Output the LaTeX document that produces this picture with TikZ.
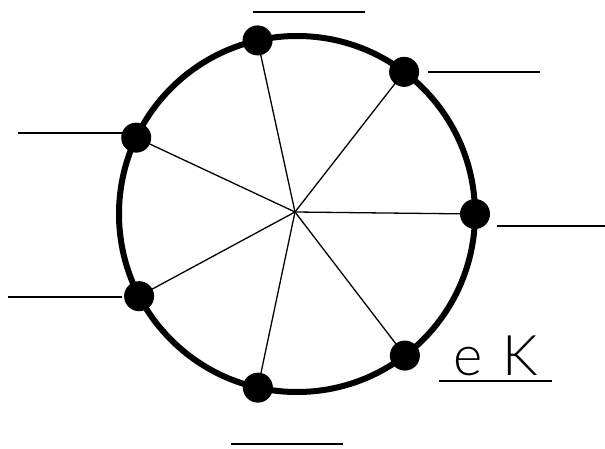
\documentclass[tikz,border=0pt]{standalone}
\usepackage{fontspec}
\newfontfamily\thinfont{Lato Light}
\begin{document}
\begin{tikzpicture}[x=1pt,y=-1pt,
  rim/.style={line width=6pt},
  spoke/.style={line width=1.3pt},
  blank/.style={line width=2pt},
  dotnode/.style={circle,fill=black,inner sep=0pt,minimum size=30pt}]
\useasboundingbox (0,0) rectangle (605,449);
\coordinate (c) at (297,214);
\draw[rim] (c) circle[radius=178];
\coordinate (s) at (295,212);
\foreach \n/\a in {d1/102.8,d2/53,d3/0,d4/-52.7,d5/-102.7,d6/207.5,d7/154.6}{
  \path (c) ++(\a:178 and -178) coordinate (\n);
}
\foreach \n in {d1,d2,d3,d4,d5,d6,d7}{\draw[spoke] (s) -- (\n);}
\foreach \n in {d1,d2,d3,d4,d5,d6,d7}{\node[dotnode] (n\n) at (\n) {};}
\coordinate (l1a) at (253,12); \coordinate (l1b) at (365,12);
\coordinate (l2a) at (428,72); \coordinate (l2b) at (540,72);
\coordinate (l3a) at (497,226); \coordinate (l3b) at (605,226);
\coordinate (l4a) at (439,381); \coordinate (l4b) at (552,381);
\coordinate (l5a) at (231,444); \coordinate (l5b) at (343,444);
\coordinate (l6a) at (8,297); \coordinate (l6b) at (122,297);
\coordinate (l7a) at (18,133); \coordinate (l7b) at (124,133);
\foreach \i in {1,...,7}{\draw[blank] (l\i a) -- (l\i b);}
\node[anchor=base west,inner sep=0pt,font=\thinfont\fontsize{56}{60}\selectfont] (ek) at (453,375) {e\ \hspace{5pt}K};
\end{tikzpicture}
\end{document}
